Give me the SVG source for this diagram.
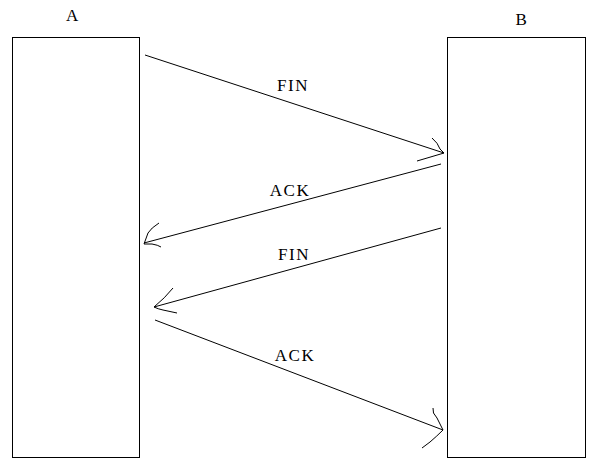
<svg xmlns="http://www.w3.org/2000/svg" width="605" height="471" viewBox="0 0 605 471">
<style>
.box{fill:#fff;stroke:#000;stroke-width:1}
.ln{fill:none;stroke:#000;stroke-width:1}
.t{font-family:"Liberation Serif","Times New Roman",serif;font-size:17px;fill:#000;letter-spacing:1.5px}
</style>
<rect width="605" height="471" fill="#fff"/>
<g id="nodeA">
<rect class="box" x="12.5" y="37.5" width="127" height="420"/>
<text class="t" x="73" y="21" text-anchor="middle">A</text>
</g>
<g id="nodeB">
<rect class="box" x="447.5" y="37.5" width="138" height="420"/>
<text class="t" x="522" y="25" text-anchor="middle">B</text>
</g>
<g id="connectors">
<g id="fin1">
<path class="ln" d="M145,55 L444,153"/>
<path class="ln" d="M432,138 Q438,143 440,149 L444,153 L417,161"/>
<text class="t" x="293" y="91" text-anchor="middle">FIN</text>
</g>
<g id="ack1">
<path class="ln" d="M441,164 L144,243"/>
<path class="ln" d="M159,223 Q151,228 148,233 L144,244 L152,244 Q158,245 161,247"/>
<text class="t" x="290" y="196" text-anchor="middle">ACK</text>
</g>
<g id="fin2">
<path class="ln" d="M441,228 L154,307"/>
<path class="ln" d="M173,288 Q165,298 154,307 Q158,309 163,310 L177,313"/>
<text class="t" x="294" y="260" text-anchor="middle">FIN</text>
</g>
<g id="ack2">
<path class="ln" d="M155,320 L443,430"/>
<path class="ln" d="M433,408 Q432,413 437,418 L443,430 Q437,436 430,442 L422,448"/>
<text class="t" x="295" y="361" text-anchor="middle">ACK</text>
</g>
</g>
</svg>
